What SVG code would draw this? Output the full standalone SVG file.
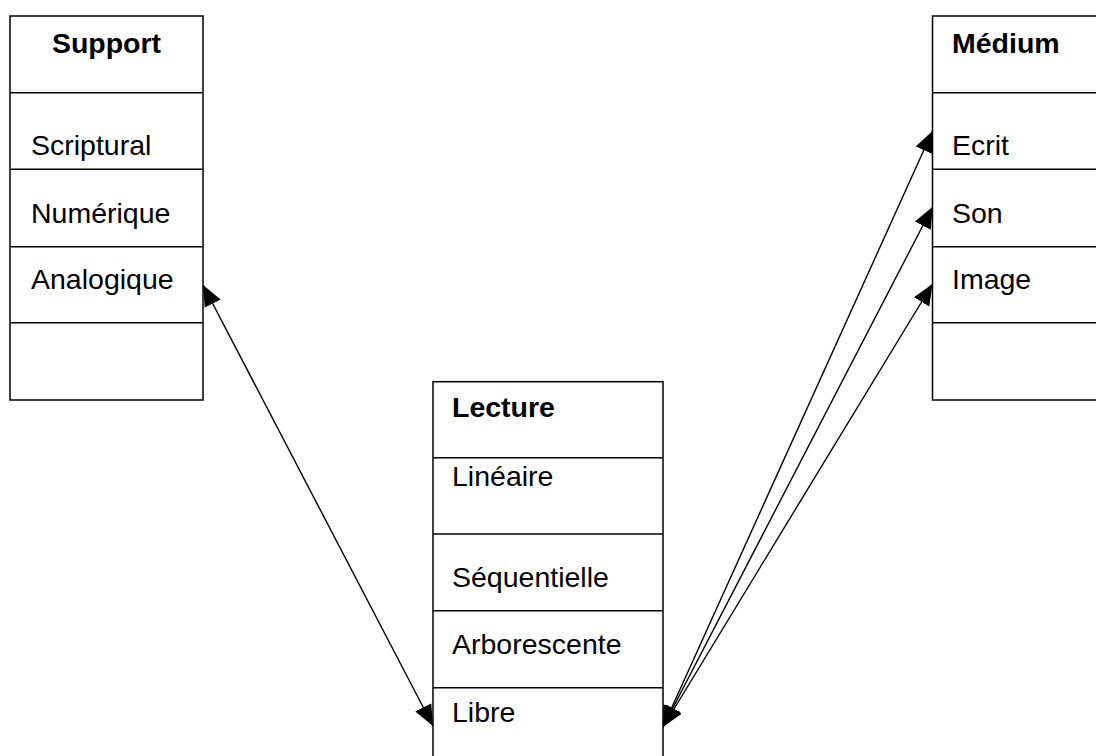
<svg xmlns="http://www.w3.org/2000/svg" width="1096" height="756" viewBox="0 0 1096 756">
<style>
.box{fill:#fff;stroke:#000;stroke-width:1.5}
.div{stroke:#000;stroke-width:1.5}
.t{font-family:"Liberation Sans",Arial,sans-serif;font-size:28.5px;fill:#000}
.b{font-weight:bold}
.c{stroke:#000;stroke-width:1.4;fill:none;marker-start:url(#ah);marker-end:url(#ah)}
</style>
<defs>
<marker id="ah" markerUnits="userSpaceOnUse" viewBox="0 -10 22 20" markerWidth="22" markerHeight="20" refX="21" refY="0" orient="auto-start-reverse">
<path d="M0,-9 L21,0 L0,9 z" fill="#000"/>
</marker>
</defs>
<rect width="1096" height="756" fill="#fff"/>
<g id="connectors">
<line class="c" x1="203" y1="285" x2="433" y2="726"/>
<line class="c" x1="663" y1="727" x2="932.5" y2="131"/>
<line class="c" x1="663" y1="727" x2="932.5" y2="207"/>
<line class="c" x1="663" y1="727" x2="932.5" y2="284"/>
</g>
<g id="support">
<rect class="box" x="10" y="16" width="193" height="384"/>
<line class="div" x1="10" y1="92.7" x2="203" y2="92.7"/>
<line class="div" x1="10" y1="169.3" x2="203" y2="169.3"/>
<line class="div" x1="10" y1="246.7" x2="203" y2="246.7"/>
<line class="div" x1="10" y1="322.7" x2="203" y2="322.7"/>
<text class="t b" x="106.5" y="52.5" text-anchor="middle">Support</text>
<text class="t" x="31" y="154.5">Scriptural</text>
<text class="t" x="31" y="223">Numérique</text>
<text class="t" x="31" y="289">Analogique</text>
</g>
<g id="medium">
<rect class="box" x="932.5" y="16" width="193" height="384"/>
<line class="div" x1="932.5" y1="92.7" x2="1125" y2="92.7"/>
<line class="div" x1="932.5" y1="169.3" x2="1125" y2="169.3"/>
<line class="div" x1="932.5" y1="246.7" x2="1125" y2="246.7"/>
<line class="div" x1="932.5" y1="322.7" x2="1125" y2="322.7"/>
<text class="t b" x="952" y="52.5">Médium</text>
<text class="t" x="952" y="154.5">Ecrit</text>
<text class="t" x="952" y="223">Son</text>
<text class="t" x="952" y="289">Image</text>
</g>
<g id="lecture">
<rect class="box" x="433" y="381.7" width="230" height="384"/>
<line class="div" x1="433" y1="457.7" x2="663" y2="457.7"/>
<line class="div" x1="433" y1="534" x2="663" y2="534"/>
<line class="div" x1="433" y1="610.7" x2="663" y2="610.7"/>
<line class="div" x1="433" y1="687.7" x2="663" y2="687.7"/>
<text class="t b" x="452" y="417.3">Lecture</text>
<text class="t" x="452" y="486">Linéaire</text>
<text class="t" x="452" y="586.5">Séquentielle</text>
<text class="t" x="452" y="653.5">Arborescente</text>
<text class="t" x="452" y="722">Libre</text>
</g>
</svg>
